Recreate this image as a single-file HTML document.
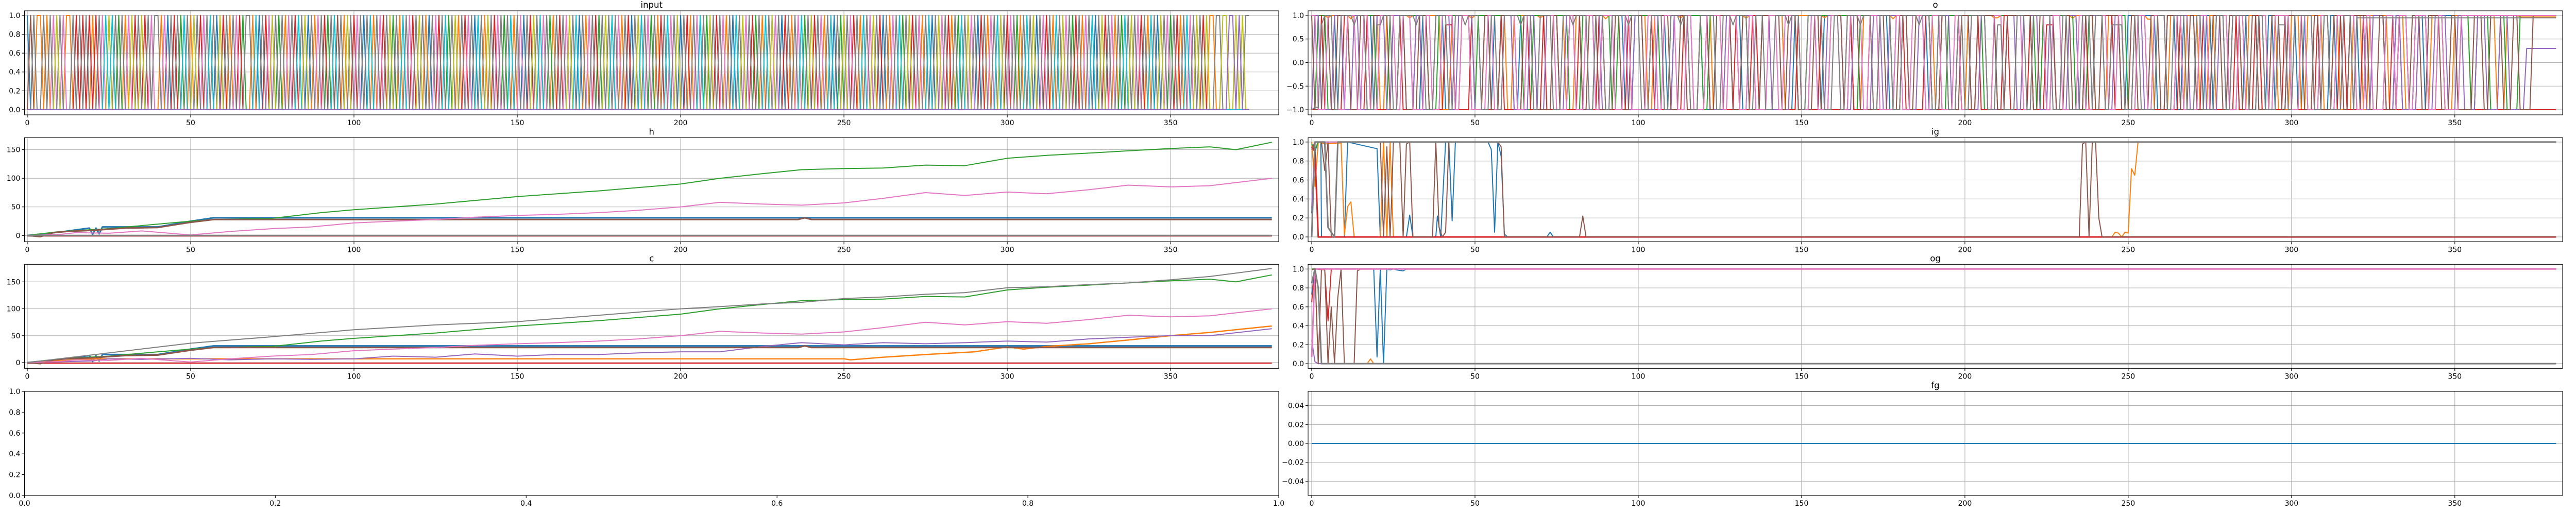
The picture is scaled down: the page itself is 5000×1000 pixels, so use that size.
<!DOCTYPE html>
<html><head><meta charset="utf-8">
<style>
html,body{margin:0;padding:0;background:#fff;}
svg{display:block;font-family:"DejaVu Sans","Liberation Sans",sans-serif;}
</style></head>
<body>
<svg id="fig" xmlns="http://www.w3.org/2000/svg" width="5000" height="1000" viewBox="0 0 5000 1000"></svg>
<script>
// ---------- data ----------
const tab10 = ['#1f77b4','#ff7f0e','#2ca02c','#d62728','#9467bd','#8c564b','#e377c2','#7f7f7f','#bcbd22','#17becf'];
const xTicks = [0,50,100,150,200,250,300,350];

// one-hot input: index of hot channel at each timestep
const inputHot = [
0,5,7,1,1,7,1,7,6,8,7,6,1,1,7,3,7,3,7,3,
1,3,7,6,9,8,9,7,2,7,1,6,8,3,7,8,3,7,6,7,
7,1,6,0,7,3,7,2,9,7,1,8,7,3,6,7,9,7,0,8,
3,7,1,7,6,3,2,7,7,1,9,0,7,3,6,8,7,2,7,1,
6,7,3,9,7,8,0,7,1,6,7,3,2,7,9,5,7,1,8,7,
3,6,7,0,7,9,1,7,6,3,7,8,2,7,1,9,7,6,3,7,
8,7,1,0,7,6,3,7,9,2,7,8,1,7,3,6,7,0,9,7,
1,8,7,3,6,7,2,7,9,1,7,6,0,7,3,8,7,9,6,7,
2,1,7,3,7,6,8,7,9,0,7,1,6,7,3,2,7,8,7,9,
7,6,1,7,3,0,7,8,9,7,6,2,7,1,3,7,9,6,7,8,
0,7,3,1,7,6,9,7,2,8,7,3,7,6,1,7,0,9,7,8,
6,7,3,2,7,1,9,7,8,6,7,0,3,7,1,7,6,9,2,7,
8,3,7,6,1,7,9,0,7,2,8,7,6,3,7,1,9,7,6,8,
7,3,0,7,1,6,7,9,2,7,8,3,7,6,1,7,9,0,7,8,
6,7,3,1,7,2,9,7,8,6,7,0,3,7,1,6,7,9,8,7,
3,6,7,2,1,7,9,7,8,0,7,6,3,7,1,9,7,8,6,7,
2,3,7,1,6,7,9,0,7,8,3,7,6,1,7,2,9,7,8,7,
6,3,7,1,9,7,0,8,7,6,2,7,3,1,7,9,6,7,8,7,
3,8,1,1,7,7,8,8,4,4,8,4,8,7,7];

// o: [value, runLength] pairs per channel
const oBlue   = [-1,2, 1,6, -1,3, 1,8, -1,2, 1,10, -1,3, 1,7, -1,2, 1,9, -1,4, 1,6, -1,2, 1,12, -1,3, 1,8, -1,2, 1,7, -1,3, 1,10, -1,2, 1,9, -1,4, 1,8, -1,2, 1,11, -1,3, 1,7, -1,2, 1,9, -1,3, 1,8, -1,2, 1,10, -1,3, 1,7, -1,2, 1,9, -1,3, 1,12, -1,2, 1,8, -1,3, 1,10, -1,2, 1,9, -1,3,
  1,3, -1,2, 1,4, -1,3, 1,2, -1,5, 1,3, -1,2, 1,4, -1,3, 1,2, -1,4, 1,3,
  -1,2, 1,5, -1,3, 1,2, -1,4, 1,3, -1,2, 1,6, -1,3, 1,2, -1,4, 1,3, -1,1, 1,40];
const oOrange = [1,5, 0.95,1, 1,6, 0.93,1, 1,8, -1,2, 1,7, 0.95,1, 1,9, -1,3, 1,6, 0.94,1, 1,10, -1,2, 1,8, 0.95,1, 1,7, -1,3, 1,9, 0.93,1, 1,12, -1,2, 1,8, 0.95,1, 1,9, -1,4, 1,6, 0.94,1, 1,11, -1,2, 1,10, 0.95,1, 1,8, -1,3, 1,9, 0.93,1, 1,12, -1,2, 1,6, -1,2, 1,8, 0.95,2, 1,10, -1,3, 1,9, 0.94,1, 1,6, -1,4, 1,5, -1,3, 1,4, 0.92,2, -1,5,
  1,3, -1,2, 1,4, -1,3, 1,2, -1,5, 1,3, -1,2, 1,4, -1,3, 1,2, -1,4, 1,3,
  -1,2, 1,5, -1,3, 1,2, -1,4, 1,3, -1,2, 1,6, -1,3, 1,2, -1,4, 1,3, -1,1,
  1,4, -1,3, 1,5, -1,2, 1,6, -1,3, 1,4, 0.97,20];
const oGreen  = [-1,2, 1,3, -1,6, 1,9, -1,4, 1,12, -1,3, 1,10, -1,2, 1,14, -1,3, 1,11, -1,4, 1,9, -1,2, 1,13, -1,3, 1,10, -1,2, 1,12, -1,4, 1,11, -1,3, 1,14, -1,2, 1,10, -1,3, 1,12, -1,2, 1,11, -1,3, 1,13, -1,2, 1,10, -1,4, 1,12, -1,3,
  1,3, -1,2, 1,4, -1,3, 1,2, -1,5, 1,3, -1,2, 1,4, -1,3, 1,2, -1,4, 1,3,
  -1,2, 1,5, -1,3, 1,2, -1,4, 1,3, -1,2, 1,6, -1,3, 1,2, -1,4, 1,3, -1,1,
  1,3, -1,2, 1,4, -1,3, 1,2, -1,5, 1,3, -1,2, 1,4, -1,3, 1,2, -1,4, 1,3, 1,40];
const oRed    = [-1,3, 1,1, -1,6, 1,2, -1,5, 1,1, -1,9, 1,1, -1,4, 1,2, -1,7, 0.8,3, -1,5, 1,1, -1,8, 1,1, -1,6, 1,2, -1,4, 1,1, -1,10, 1,1, -1,5, 1,2, -1,7, 1,1, -1,6, 1,1, -1,9, 1,2, -1,5, 1,1, -1,8, 1,1, -1,4, 1,2, -1,12, 1,1, -1,6, 1,1, -1,7, 1,2, -1,5, 1,1, -1,9, 1,1, -1,6, 1,2, -1,8, 1,1, -1,5, 1,1, -1,7, 1,2, -1,6, 1,1, -1,4, 0.8,3, -1,9, 1,1, -1,7, 1,1, -1,20, 1,1, -1,6, 1,2, -1,8, 1,1, -1,5, 1,2, -1,7, 1,1, -1,9, 1,1, -1,6, 1,2, -1,5, 1,1, -1,8, 1,1, -1,30];
const oPurple = [-1,1, 1,2, -1,4, 1,3, -1,3, 1,2, -1,5, 1,3, -1,2, 1,4, -1,3, 1,2, -1,6, 1,3, -1,2, 1,5, -1,3, 1,2, -1,4, 1,3, -1,5, 1,2, -1,3, 1,4, -1,2, 1,3, -1,6, 1,2, -1,3, 1,5, -1,2, 1,3, -1,4, 1,2, -1,3, 1,6, -1,2, 1,3, -1,5, 1,2, -1,3, 1,4, -1,2, 1,3, -1,6, 1,2, -1,4, 1,3, -1,2, 1,5, -1,3, 1,2, -1,4, 1,3, -1,2, 1,6, -1,3, 1,2, -1,5, 1,3, -1,2, 1,4, -1,3, 1,2, -1,6, 1,3, -1,2, 1,5, -1,3, 1,2, -1,4, 1,3, -1,2, 1,6, -1,3, 1,2, -1,4, 1,3, -1,2, 1,5, -1,3, 1,4, -1,2, 1,3, -1,4, 1,2,
  -1,2, 1,5, -1,3, 1,2, -1,4, 1,3, -1,2, 1,6, -1,3, 1,2, -1,4, 1,3, -1,1,
  1,3, -1,2, 1,4, -1,3, 1,2, -1,5, 1,3, -1,2, 1,4, -1,3, 1,2, -1,4, 1,3,
  -1,4, 1,3, -1,5, 0.3,12];
const oBrown  = [1,1, -1,3, 1,2, -1,2, 1,4, -1,3, 1,2, -1,2, 1,5, -1,3, 1,2, -1,4, 1,3, -1,2, 1,6, -1,2, 1,3, -1,4, 1,2, -1,3, 1,5, -1,2, 1,3, -1,6, 1,2, -1,3, 1,4, -1,2, 1,3, -1,5, 1,2, -1,3, 1,4, -1,2, 1,6, -1,3, 1,2, -1,4, 1,3, -1,2, 1,5, -1,3, 1,2, -1,4, 1,6, -1,2, 1,3, -1,5, 1,2, -1,3, 1,4, -1,2, 1,3, -1,6, 1,2, -1,4, 1,3, -1,2, 1,5, -1,3, 1,2, -1,4, 1,3, -1,2, 1,6, -1,3, 1,8, -1,2, 1,5, -1,3, 1,2, -1,4, 1,3, -1,2, 1,6, -1,3, 1,2, -1,4,
  1,3, -1,2, 1,4, -1,3, 1,2, -1,5, 1,3, -1,2, 1,4, -1,3, 1,2, -1,4, 1,3,
  -1,2, 1,5, -1,3, 1,2, -1,4, 1,3, -1,2, 1,6, -1,3, 1,2, -1,4, 1,3, -1,1,
  1,3, -1,2, 1,4, -1,3, 1,2, -1,5, 1,3, -1,2, 1,4, -1,3, 1,2, -1,4, 1,3, 1,30];
const oPink   = [1,2, -1,3, 1,2, -1,4, 1,3, -1,2, 1,2, -1,3, 1,5, -1,2, 1,3, -1,4, 1,2, -1,3, 1,4, -1,2, 1,3, -1,5, 1,2, -1,3, 1,4, -1,3, 1,2, -1,2, 1,5, -1,4, 1,2, -1,3, 1,3, -1,2, 1,4, -1,3, 1,2, -1,5, 1,3, -1,2, 1,4, -1,3, 1,2, -1,4, 1,5, -1,2, 1,3, -1,3, 1,2, -1,4, 1,3, -1,2, 1,5, -1,3, 1,2, -1,4, 1,3, -1,3, 1,4, -1,2, 1,3, -1,5, 1,2, -1,3, 1,4, -1,2, 1,3, -1,4, 1,2, -1,3, 1,5, -1,2, 1,3, -1,4, 1,2, -1,3, 1,4, -1,2, 1,3, -1,5, 1,2, -1,3, 1,4, -1,3, 1,2, -1,4,
  1,3, -1,2, 1,4, -1,3, 1,2, -1,5, 1,3, -1,2, 1,4, -1,3, 1,2, -1,4, 1,3,
  -1,2, 1,5, -1,3, 1,2, -1,4, 1,3, -1,2, 1,6, -1,3, 1,2, -1,4, 1,3, -1,1,
  1,3, -1,2, 1,4, -1,3, 1,2, -1,5, 1,3, 1,20];
const oGray   = [-1,1, -0.95,2, 0.8,1, 1,3, -1,2, 1,4, 0.8,1, 1,3, -1,3, 0.8,2, 1,3, -1,2, 1,5, 0.8,1, 1,2, -1,3, 1,4, -1,2, 1,3, 0.8,1, 1,4, -1,3, 1,2, -1,2, 1,5, 0.8,1, 1,3, -1,2, 1,4, -1,3, 1,3, 0.8,1, 1,4, -1,2, 1,3, -1,2, 1,5, 0.8,1, 1,3, -1,3, 1,4, -1,2, 1,3, 0.8,1, 1,2, -1,3, 1,5, -1,2, 1,3, 0.8,1, 1,4, -1,2, 1,3, -1,3, 1,4, 0.8,1, 1,3, -1,2, 1,5, -1,3, 1,2, -1,2, 1,4, 0.8,1, 1,3, -1,2, 1,4, -1,3, 1,5, 0.8,1, 1,3, -1,2, 1,3, -1,3, 1,2,
  -1,2, 1,5, -1,3, 0.8,2, -1,4, 1,3, -1,2, 1,6, -1,3, 1,2, -1,4, 1,3, -1,1,
  1,3, -1,2, 0.8,4, -1,3, 1,2, -1,5, 1,3, -1,2, 1,4, -1,3, 1,2, -1,4, 1,3,
  -1,2, 1,5, -1,3, 1,2, -1,4, 0.8,3, -1,2, 1,6, -1,3, 1,2, -1,4, 1,3, -1,1, 0.95,20];

// h keyframes
const hGreenX = [0,10,25,40,50,57,75,90,100,125,150,175,200,212,225,237,250,262,275,287,300,312,325,337,350,362,370,381];
const hGreenY = [0,7,12,20,25,28,30,40,45,55,68,78,90,100,108,115,117,118,123,122,135,140,144,148,152,155,150,163];
const hPinkX = [0,10,15,25,35,50,62,75,87,100,112,125,137,150,162,175,187,200,212,225,237,250,262,275,287,300,312,325,337,350,362,381];
const hPinkY = [0,2,5,4,8,1,7,12,15,22,25,28,32,35,37,40,44,50,58,55,53,57,65,75,70,76,73,80,88,85,87,100];
const hBlueX = [0,10,19,20,21,22,23,25,40,50,57,381];
const hBlueY = [0,6,13,2,13,3,15,15,15,25,31,31];
const hBrownX = [0,4,8,12,20,30,40,50,57,236,238,240,381];
const hBrownY = [0,-2,5,7,9,13,14,23,28,28,31,28,28];
const hFlatX = [0,381];
const hGrayY = [0,0];
const hRedY = [-1,-1];
// c keyframes (extra series)
const cGrayX = [0,25,50,75,100,125,150,175,200,212,225,237,250,262,275,287,300,312,325,337,350,362,381];
const cGrayY = [0,18,36,48,61,70,76,88,100,104,109,112,119,122,127,130,139,141,145,148,154,160,175];
const cOrangeX = [0,15,20,250,252,262,275,290,300,305,312,325,337,350,362,381];
const cOrangeY = [0,5,7,7,5,10,15,20,29,25,30,35,42,50,56,68];
const cPurpleX = [0,20,25,35,50,62,75,87,100,112,125,137,150,162,175,187,200,212,225,237,250,262,275,287,300,312,325,337,350,362,381];
const cPurpleY = [0,3,7,6,8,5,7,6,7,12,10,16,12,15,15,18,20,20,30,37,33,37,35,37,40,38,44,47,50,50,63];

// ig keyframes
const igBlueX = [0,1,2,2.8,3,10,11,20,21,29,30,31,38,38.5,39.5,41,42,43,44,54,55,56,57,58,59,60,72,73,74,381];
const igBlueY = [0.25,0.9,1,1,0,0,1,0.93,0,0,0.23,0,0,0.22,0,1,1,0.17,1,1,0.92,0.05,1,0.85,0.03,0,0,0.05,0,0];
const igOrangeX = [0,1,2,4,9,10,11,12,13,21,22,23,24,25,245,246,247,248,249,250,251,252,253,381];
const igOrangeY = [1,0.53,1,0.98,0.99,0.02,0.32,0.37,0,0,1,0,1,0,0,0.05,0.04,0,0.05,0.04,0.72,0.65,1,1];
const igGreenX = [0,1,2,381];
const igGreenY = [0.98,0.92,1,1];
const igRedX = [0,1,2,381];
const igRedY = [0.95,0.9,0,0];
const igPurpleX = [0,1,381];
const igPurpleY = [0.3,1,1];
const igBrownX = [0,1,3,4,5,6,7,8,21,22,23,24,24.5,25,27,28,29,30,31,37,38,39,40,41,42,57,58,59,82,83,84,235,236,237,238,239,240,241,242,381];
const igBrownY = [0.92,1,1,0.7,1,0,0,1,1,0,0.95,0,0.42,1,1,0,0.98,1,0,0,1,0.1,0,0.05,1,1,0.95,0,0,0.22,0,0,0.98,1,0,1,1,0.2,0,0];
const igPinkX = [0,1,381];
const igPinkY = [0.05,1,1];
const igGrayX = [0,1,4,5,6,7,8,381];
const igGrayY = [0,1,1,0.1,0.05,0,1,1];

// og keyframes
const ogBlueX = [0,1,19,20,21,22,23,24,25,26,28,29,381];
const ogBlueY = [0.73,1,1,0.07,1,0,1,0.99,1,0.99,0.98,1,1];
const ogOrangeX = [0,1,2,17,18,19,381];
const ogOrangeY = [1,1,0,0,0.05,0,0];
const ogGreenX = [0,381];
const ogGreenY = [1,1];
const ogRedX = [0,1,4,5,6,381];
const ogRedY = [0.65,1,0.99,0.45,1,1];
const ogPurpleX = [0,1,2,381];
const ogPurpleY = [0.25,0.02,0,0];
const ogBrownX = [0,1,2,3,4,5,6,7,8,9,10,13,14,15,381];
const ogBrownY = [0.99,1,0,1,1,0,0.6,0,0.7,1,0,0,0.98,1,1];
const ogGrayX = [0,1,2,3,381];
const ogGrayY = [0.85,1,0.8,0,0];
const ogPinkX = [0,1,381];
const ogPinkY = [0.07,1,1];

// fg
const fgX = [0,381];
const fgY = [0,0];

// tick labels
const inputYTicks = [0,0.2,0.4,0.6,0.8,1.0];
const oYTicks = [-1,-0.5,0,0.5,1];
const hYTicks = [0,50,100,150];
const unitTicks = [0,0.2,0.4,0.6,0.8,1.0];
const fgYTicks = [-0.04,-0.02,0,0.02,0.04];

// ---------- drawing ----------
const NS = 'http://www.w3.org/2000/svg';
const svg = document.getElementById('fig');
let clipId = 0;
function el(tag, attrs, parent){
  const e = document.createElementNS(NS, tag);
  for (const k in attrs) e.setAttribute(k, attrs[k]);
  (parent||svg).appendChild(e);
  return e;
}
function fmt(v, d){
  const s = v.toFixed(d);
  return (v < 0 ? '\u2212' + s.slice(1) : s);
}
function makeAxes(name, x0, y0, w, h, xmin, xmax, ymin, ymax, xt, xd, yt, yd, grid, title){
  const g = el('g', {});
  
  
  const sx = v => x0 + (v - xmin) / (xmax - xmin) * w;
  const sy = v => y0 + h - (v - ymin) / (ymax - ymin) * h;
  if (grid){
    xt.forEach(t => { const l = el('line', {x1:sx(t), x2:sx(t), y1:y0, y2:y0+h, stroke:'#b0b0b0', 'stroke-width':1.1}, g);
        });
    yt.forEach(t => { const l = el('line', {x1:x0, x2:x0+w, y1:sy(t), y2:sy(t), stroke:'#b0b0b0', 'stroke-width':1.1}, g);
        });
  }
  const cid = 'clip' + (clipId++);
  const cp = el('clipPath', {id:cid}, g);
  el('rect', {x:x0, y:y0, width:w, height:h}, cp);
  const plot = el('g', {'clip-path':'url(#' + cid + ')'}, g);
  
  
  xt.forEach(t => {
    el('line', {x1:sx(t), x2:sx(t), y1:y0+h, y2:y0+h+5, stroke:'#000', 'stroke-width':1.1}, g);
    const tx = el('text', {x:sx(t), y:y0+h+20, 'font-size':14, 'text-anchor':'middle', fill:'#000'}, g);
    tx.textContent = fmt(t, xd);
    
    
  });
  yt.forEach(t => {
    el('line', {x1:x0-5, x2:x0, y1:sy(t), y2:sy(t), stroke:'#000', 'stroke-width':1.1}, g);
    const tx = el('text', {x:x0-8, y:sy(t)+5, 'font-size':14, 'text-anchor':'end', fill:'#000'}, g);
    tx.textContent = fmt(t, yd);
    
    
  });
  const fr = el('rect', {x:x0, y:y0, width:w, height:h, fill:'none', stroke:'#000', 'stroke-width':1.1}, g);
  
  
  if (title){
    const tt = el('text', {x:x0+w/2, y:y0-6, 'font-size':16.5, 'text-anchor':'middle', fill:'#000'}, g);
    tt.textContent = title;
    
    
  }
  return {sx, sy, plot};
}
function drawLine(ax, xs, ys, color, name, width){
  const pts = xs.map((x, i) => ax.sx(x).toFixed(1) + ',' + ax.sy(ys[i]).toFixed(1)).join(' ');
  const p = el('polyline', {points:pts, fill:'none', stroke:color, 'stroke-width':width||2, 'stroke-linejoin':'round'}, ax.plot);
  
  
}
function runsToSeries(runs, n){
  const xs = [], ys = [];
  let t = 0;
  for (let i = 0; i < runs.length && t < n; i += 2){
    for (let k = 0; k < runs[i+1] && t < n; k++){ xs.push(t); ys.push(runs[i]); t++; }
  }
  const last = runs[runs.length-2];
  while (t < n){ xs.push(t); ys.push(last); t++; }
  return [xs, ys];
}

const LX = 47.5, LW = 2434.5, RX = 2539, RW = 2435, AH = 202;
const rows = [21, 267.3, 513.3, 760];

// input
{
  const ax = makeAxes('input-chart', LX, rows[0], LW, AH, -0.87, 383.1, -0.055, 1.049, xTicks, 0, inputYTicks, 1, true, 'input');
  const order = [0,1,2,3,5,6,7,8,9,4];
  order.forEach(c => {
    const xs = inputHot.map((_, i) => i);
    const ys = inputHot.map(v => v === c ? 1 : 0);
    drawLine(ax, xs, ys, tab10[c], 'input-channel-' + c, 2);
  });
}
// o
{
  const ax = makeAxes('o-chart', RX, rows[0], RW, AH, -1.1, 383, -1.109, 1.098, xTicks, 0, oYTicks, 1, true, 'o');
  const oSeries = [oBlue, oOrange, oGreen, oRed, oPurple, oBrown, oPink, oGray];
  oSeries.forEach((r, i) => { const [xs, ys] = runsToSeries(r, 382); drawLine(ax, xs, ys, tab10[i], 'o-channel-' + i, 2); });
}
// h
{
  const ax = makeAxes('h-chart', LX, rows[1], LW, AH, -0.87, 383.1, -10.8, 171, xTicks, 0, hYTicks, 0, true, 'h');
  drawLine(ax, hBlueX, hBlueY, tab10[0], 'h-blue', 3);
  drawLine(ax, hFlatX, [0,0], tab10[1], 'h-orange');
  drawLine(ax, hGreenX, hGreenY, tab10[2], 'h-green');
  drawLine(ax, hFlatX, hRedY, tab10[3], 'h-red');
  drawLine(ax, hFlatX, [0,0], tab10[4], 'h-purple');
  drawLine(ax, hBrownX, hBrownY, tab10[5], 'h-brown', 3);
  drawLine(ax, hPinkX, hPinkY, tab10[6], 'h-pink');
  drawLine(ax, hFlatX, hGrayY, tab10[7], 'h-gray', 3);
}
// ig
{
  const ax = makeAxes('ig-chart', RX, rows[1], RW, AH, -1.1, 383, -0.05, 1.046, xTicks, 0, unitTicks, 1, true, 'ig');
  drawLine(ax, igBlueX, igBlueY, tab10[0], 'ig-blue');
  drawLine(ax, igOrangeX, igOrangeY, tab10[1], 'ig-orange');
  drawLine(ax, igGreenX, igGreenY, tab10[2], 'ig-green');
  drawLine(ax, igRedX, igRedY, tab10[3], 'ig-red', 3);
  drawLine(ax, igPurpleX, igPurpleY, tab10[4], 'ig-purple');
  drawLine(ax, igBrownX, igBrownY, tab10[5], 'ig-brown');
  drawLine(ax, igPinkX, igPinkY, tab10[6], 'ig-pink');
  drawLine(ax, igGrayX, igGrayY, tab10[7], 'ig-gray', 3);
}
// c
{
  const ax = makeAxes('c-chart', LX, rows[2], LW, AH, -0.87, 383.1, -10.8, 182.6, xTicks, 0, hYTicks, 0, true, 'c');
  drawLine(ax, hBlueX, hBlueY, tab10[0], 'c-blue', 3);
  drawLine(ax, cOrangeX, cOrangeY, tab10[1], 'c-orange', 2.5);
  drawLine(ax, hGreenX, hGreenY, tab10[2], 'c-green');
  drawLine(ax, hFlatX, hRedY, tab10[3], 'c-red', 2.5);
  drawLine(ax, cPurpleX, cPurpleY, tab10[4], 'c-purple');
  drawLine(ax, hBrownX, hBrownY, tab10[5], 'c-brown', 3);
  drawLine(ax, hPinkX, hPinkY, tab10[6], 'c-pink');
  drawLine(ax, cGrayX, cGrayY, tab10[7], 'c-gray');
}
// og
{
  const ax = makeAxes('og-chart', RX, rows[2], RW, AH, -1.1, 383, -0.05, 1.049, xTicks, 0, unitTicks, 1, true, 'og');
  drawLine(ax, ogBlueX, ogBlueY, tab10[0], 'og-blue');
  drawLine(ax, ogOrangeX, ogOrangeY, tab10[1], 'og-orange');
  drawLine(ax, ogGreenX, ogGreenY, tab10[2], 'og-green');
  drawLine(ax, ogRedX, ogRedY, tab10[3], 'og-red');
  drawLine(ax, ogPurpleX, ogPurpleY, tab10[4], 'og-purple');
  drawLine(ax, ogBrownX, ogBrownY, tab10[5], 'og-brown');
  drawLine(ax, ogPinkX, ogPinkY, tab10[6], 'og-pink', 3);
  drawLine(ax, ogGrayX, ogGrayY, tab10[7], 'og-gray', 3);
}
// empty
makeAxes('empty-chart', LX, rows[3], LW, AH, 0, 1, 0, 1, unitTicks, 1, unitTicks, 1, false, '');
// fg
{
  const ax = makeAxes('fg-chart', RX, rows[3], RW, AH, -1.1, 383, -0.055, 0.055, xTicks, 0, fgYTicks, 2, true, 'fg');
  drawLine(ax, fgX, fgY, tab10[0], 'fg-line');
}
</script>
</body></html>
